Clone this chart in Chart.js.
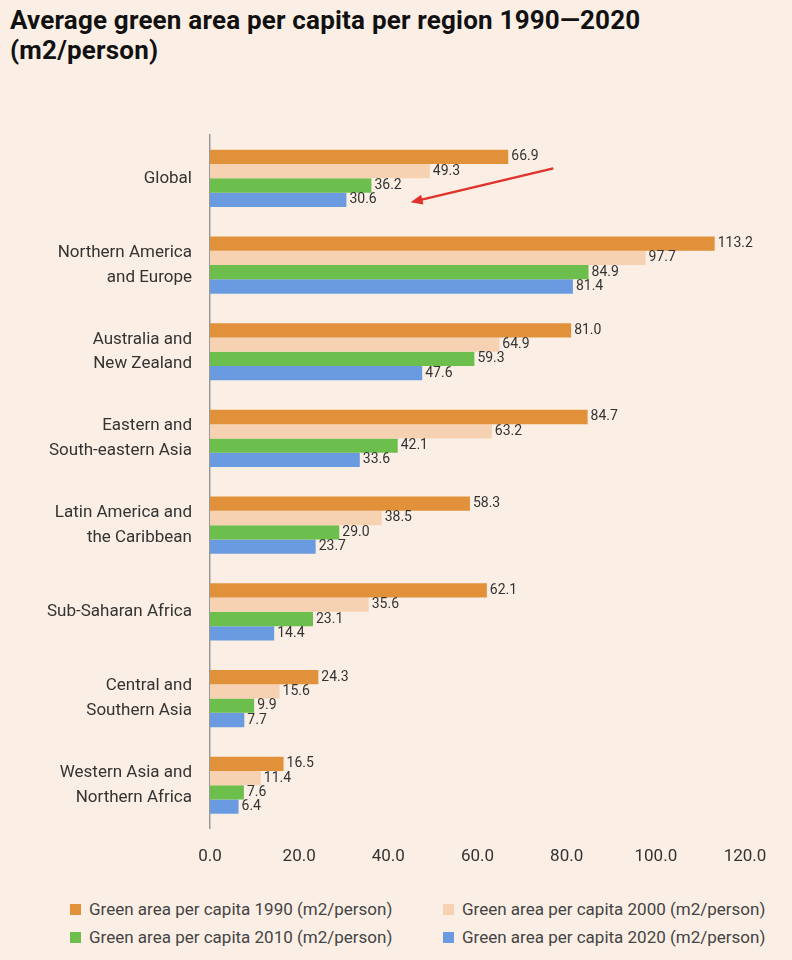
<!DOCTYPE html>
<html>
<head>
<meta charset="utf-8">
<script src="https://cdn.jsdelivr.net/npm/chart.js@4"></script>
<style>
  body { margin: 0; background: #fbefe5; font-family: Roboto, sans-serif; width: 792px; height: 960px; overflow: hidden; }
  #title { position: absolute; left: 10px; top: 5px; font: bold 26px "Liberation Sans Narrow", Roboto, sans-serif; color: #111; letter-spacing: 0.2px; }
  #wrap { position: absolute; left: 0; top: 50px; width: 792px; height: 835px; }
  .leg { position: absolute; font-size: 17px; color: #444; }
  .leg span { display: inline-block; width: 11px; height: 11px; margin-right: 8px; vertical-align: 0px; }
</style>
</head>
<body>
<div id="title">Average green area per capita per region 1990—2020 (m2/person)</div>
<div id="wrap"><canvas id="chart"></canvas></div>
<div class="leg" style="left:70px;top:899px"><span style="background:#e0913a"></span>Green area per capita 1990 (m2/person)</div>
<div class="leg" style="left:443px;top:899px"><span style="background:#f6d2b3"></span>Green area per capita 2000 (m2/person)</div>
<div class="leg" style="left:70px;top:927px"><span style="background:#6cbf4c"></span>Green area per capita 2010 (m2/person)</div>
<div class="leg" style="left:443px;top:927px"><span style="background:#6a9be0"></span>Green area per capita 2020 (m2/person)</div>
<script>
const regions = [
    ['Global'],
    ['Northern America', 'and Europe'],
    ['Australia and', 'New Zealand'],
    ['Eastern and', 'South-eastern Asia'],
    ['Latin America and', 'the Caribbean'],
    ['Sub-Saharan Africa'],
    ['Central and', 'Southern Asia'],
    ['Western Asia and', 'Northern Africa']
];
const y1990 = [66.9, 113.2, 81.0, 84.7, 58.3, 62.1, 24.3, 16.5];
const y2000 = [49.3, 97.7, 64.9, 63.2, 38.5, 35.6, 15.6, 11.4];
const y2010 = [36.2, 84.9, 59.3, 42.1, 29.0, 23.1, 9.9, 7.6];
const y2020 = [30.6, 81.4, 47.6, 33.6, 23.7, 14.4, 7.7, 6.4];
const xTicks = [0, 20, 40, 60, 80, 100, 120];

// value labels at bar ends + the red arrow
const labelPlugin = {
    id: 'labels',
    afterDatasetsDraw(chart) {
        const ctx = chart.ctx;
        ctx.save();
        ctx.font = '14px Roboto';
        ctx.fillStyle = '#333';
        ctx.textBaseline = 'middle';
        chart.data.datasets.forEach((ds, i) => {
            chart.getDatasetMeta(i).data.forEach((bar, j) => {
                ctx.fillText(ds.data[j].toFixed(1), bar.x + 3, bar.y);
            });
        });
        // arrow pointing to Global 2020
        const x = chart.scales.x, y = chart.scales.y;
        const x0 = x.getPixelForValue(77), y0 = y.getPixelForValue(0) - 10;
        const x1 = x.getPixelForValue(45), y1 = y.getPixelForValue(0) + 24;
        ctx.strokeStyle = '#e0312b';
        ctx.fillStyle = '#e0312b';
        ctx.lineWidth = 2.5;
        ctx.beginPath();
        ctx.moveTo(x0, y0);
        ctx.lineTo(x1 + 8, y1 - 2);
        ctx.stroke();
        const a = Math.atan2(y1 - y0, x1 - x0);
        ctx.beginPath();
        ctx.moveTo(x1, y1);
        ctx.lineTo(x1 - 13 * Math.cos(a - 0.4), y1 - 13 * Math.sin(a - 0.4));
        ctx.lineTo(x1 - 13 * Math.cos(a + 0.4), y1 - 13 * Math.sin(a + 0.4));
        ctx.closePath();
        ctx.fill();
        ctx.restore();
    }
};

new Chart(document.getElementById('chart'), {
    type: 'bar',
    data: {
        labels: regions,
        datasets: [
            { label: '1990', data: y1990, backgroundColor: '#e0913a' },
            { label: '2000', data: y2000, backgroundColor: '#f6d2b3' },
            { label: '2010', data: y2010, backgroundColor: '#6cbf4c' },
            { label: '2020', data: y2020, backgroundColor: '#6a9be0' }
        ]
    },
    options: {
        indexAxis: 'y',
        responsive: true,
        maintainAspectRatio: false,
        animation: false,
        layout: { padding: { top: 85, right: 47, bottom: 0 } },
        datasets: { bar: { barPercentage: 1, categoryPercentage: 0.66 } },
        plugins: { legend: { display: false }, tooltip: { enabled: false } },
        scales: {
            x: {
                min: 0, max: 120,
                afterBuildTicks: s => { s.ticks = xTicks.map(v => ({ value: v })); },
                grid: { display: false, drawTicks: false },
                border: { display: false },
                ticks: { color: '#333', font: { family: 'Roboto', size: 17 }, padding: 18, callback: v => v.toFixed(1) }
            },
            y: {
                afterFit: s => { s.width = 210; },
                grid: { display: false },
                border: { color: '#999', width: 1.5 },
                ticks: { color: '#333', font: { family: 'Roboto', size: 17, lineHeight: 1.45 }, padding: 10 }
            }
        }
    },
    plugins: [labelPlugin]
});
</script>
</body>
</html>
